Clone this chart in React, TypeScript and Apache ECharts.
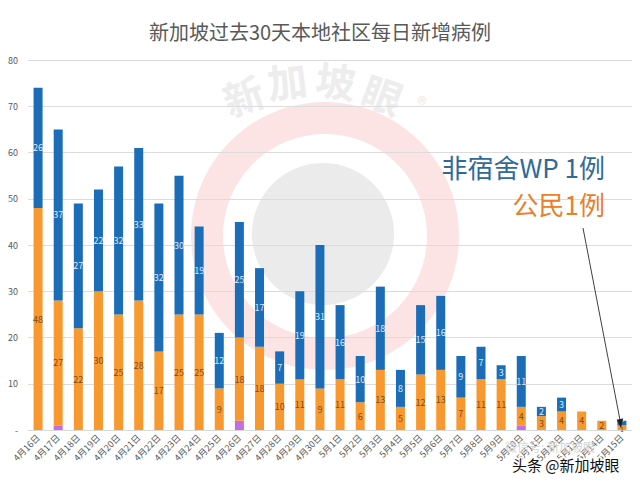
import React, { useEffect, useRef } from "react";
import * as echarts from "echarts";

const categories = [
  "4月16日", "4月17日", "4月18日", "4月19日", "4月20日", "4月21日", "4月22日", "4月23日", "4月24日", "4月25日",
  "4月26日", "4月27日", "4月28日", "4月29日", "4月30日", "5月1日", "5月2日", "5月3日", "5月4日", "5月5日",
  "5月6日", "5月7日", "5月8日", "5月9日", "5月10日", "5月11日", "5月12日", "5月13日", "5月14日", "5月15日",
];
const purpleValues = [0, 1, 0, 0, 0, 0, 0, 0, 0, 0, 2, 0, 0, 0, 0, 0, 0, 0, 0, 0, 0, 0, 0, 0, 1, 0, 0, 0, 0, 0];
const orangeValues = [48, 27, 22, 30, 25, 28, 17, 25, 25, 9, 18, 18, 10, 11, 9, 11, 6, 13, 5, 12, 13, 7, 11, 11, 4, 3, 4, 4, 2, 1];
const blueValues = [26, 37, 27, 22, 32, 33, 32, 30, 19, 12, 25, 17, 7, 19, 31, 16, 10, 18, 8, 15, 16, 9, 7, 3, 11, 2, 3, 0, 0, 1];
const yTicks = [0, 10, 20, 30, 40, 50, 60, 70, 80];

const FONT = "'Noto Sans CJK SC', 'Noto Sans', sans-serif";

export default function App() {
  const ref = useRef<HTMLDivElement>(null);
  useEffect(() => {
    if (!ref.current) return;
    const chart = echarts.init(ref.current, null, { renderer: "svg" });
    const hideZero = (p: any) => (p.value ? String(p.value) : "");
    const tiny = (i: number) => orangeValues[i] <= 1 && blueValues[i] > 0 && blueValues[i] <= 1;
    const orangeData = orangeValues.map((v, i) => (tiny(i) ? { value: v, label: { offset: [0, 1], fontSize: 7, lineHeight: 7 } } : v));
    const blueData = blueValues.map((v, i) => (tiny(i) ? { value: v, label: { offset: [0, -4], fontSize: 7, lineHeight: 7 } } : v));
    const wm = (text: string, x: number, y: number, rotation: number, size = 40) => ({
      type: "text", z: -10, x, y, rotation,
      style: { text, fontSize: size, fontFamily: FONT, fontWeight: "bold", fill: "#ededed", align: "center", verticalAlign: "middle" },
    });
    const option: any = {
      animation: false,
      backgroundColor: "#ffffff",
      textStyle: { fontFamily: FONT },
      title: {
        text: "新加坡过去30天本地社区每日新增病例",
        left: "center",
        top: 16,
        textStyle: { fontFamily: FONT, fontSize: 20, fontWeight: "normal", color: "#595959" },
      },
      graphic: [
        { type: "ring", z: -10, shape: { cx: 325, cy: 236, r: 134, r0: 102 }, style: { fill: "#fce4e4" } },
        { type: "circle", z: -10, shape: { cx: 323, cy: 234, r: 71 }, style: { fill: "#ebebeb" } },
        wm("新", 243, 95, 0.35),
        wm("加", 287, 80, 0.12),
        wm("坡", 336, 80, -0.12),
        wm("眼", 383, 94, -0.35),
        wm("®", 422, 103, 0, 18),
        { type: "text", z: 50, x: 605, y: 166, style: { text: "非宿舍WP 1例", fontSize: 26, fontFamily: FONT, fill: "#2f6a99", align: "right", verticalAlign: "middle" } },
        { type: "text", z: 50, x: 605, y: 203, style: { text: "公民1例", fontSize: 26, fontFamily: FONT, fill: "#e8802c", align: "right", verticalAlign: "middle" } },
        { type: "line", z: 50, shape: { x1: 583, y1: 228, x2: 620, y2: 420 }, style: { stroke: "#404040", lineWidth: 1 } },
        { type: "polygon", z: 50, shape: { points: [[621, 428], [623.2, 418.5], [616.6, 419.8]] }, style: { fill: "#202020" } },
        { type: "text", z: 50, x: 505, y: 446, style: { text: "微信号: 新加坡眼", fontSize: 12, fontFamily: FONT, fill: "#d4d4d4", align: "left", verticalAlign: "middle" } },
        { type: "text", z: 60, x: 512, y: 464, style: { text: "头条 @新加坡眼", fontSize: 15, fontFamily: FONT, fill: "#111111", stroke: "#ffffff", lineWidth: 3, align: "left", verticalAlign: "middle" } },
      ],
      grid: { left: 28, right: 8, top: 60, bottom: 56, containLabel: false },
      xAxis: {
        type: "category",
        data: categories,
        axisLine: { lineStyle: { color: "#d9d9d9" } },
        axisTick: { show: false },
        axisLabel: { rotate: 45, fontSize: 9, color: "#595959", margin: 6, interval: 0, fontFamily: FONT },
      },
      yAxis: {
        type: "value",
        min: yTicks[0],
        max: yTicks[yTicks.length - 1],
        interval: 10,
        axisLine: { show: false },
        axisTick: { show: false },
        splitLine: { lineStyle: { color: "#dcdcdc" } },
        axisLabel: {
          fontSize: 9,
          color: "#595959",
          margin: 10,
          align: "right",
          formatter: (v: number) => (v === 0 ? "-" : String(v)),
        },
      },
      series: [
        {
          name: "其他",
          type: "bar",
          stack: "total",
          barWidth: 9,
          data: purpleValues,
          itemStyle: { color: "#c46ee0" },
          label: { show: false },
        },
        {
          name: "公民",
          type: "bar",
          stack: "total",
          barWidth: 9,
          data: orangeData,
          itemStyle: { color: "#f7992f" },
          label: { show: true, position: "inside", fontSize: 9, color: "#7f4c1a", formatter: hideZero },
        },
        {
          name: "非宿舍WP",
          type: "bar",
          stack: "total",
          barWidth: 9,
          data: blueData,
          itemStyle: { color: "#1b6db7" },
          label: { show: true, position: "inside", fontSize: 9, color: "#dce9f7", formatter: hideZero },
        },
      ],
    };
    chart.setOption(option);
    return () => chart.dispose();
  }, []);
  return <div ref={ref} style={{ width: 640, height: 486, margin: -8 }} />;
}
